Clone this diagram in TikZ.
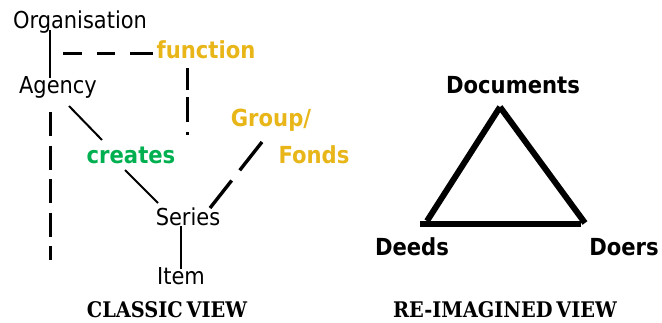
\documentclass[tikz,border=0pt]{standalone}
\usepackage{fontspec}
\setmainfont{DejaVu Sans Condensed}
\newfontfamily\headfont{DejaVu Serif Condensed}
\definecolor{gold}{RGB}{232,182,24}
\definecolor{leafgreen}{RGB}{0,176,80}
\begin{document}
\begin{tikzpicture}[x=1pt,y=-1pt,
  every node/.style={inner sep=0pt,outer sep=0pt},
  plain/.style={font=\fontsize{23.3}{23.3}\selectfont},
  keyword/.style={font=\fontsize{23.5}{23.5}\selectfont\bfseries},
  heading/.style={font=\headfont\fontsize{21.5}{21.5}\selectfont\bfseries},
  thinline/.style={line width=2pt},
  dashline/.style={line width=3pt},
  triline/.style={line width=6pt}]
\useasboundingbox (0,0) rectangle (662,322);

% classic view nodes
\node[plain] (org) at (80,22) {Organisation};
\node[keyword, text=gold] (fun) at (206,50) {function};
\node[plain] (agency) at (58,87) {Agency};
\node[keyword, text=leafgreen] (creates) at (131,155) {creates};
\node[keyword, text=gold] (group) at (271,120) {Group/};
\node[keyword, text=gold] (fonds) at (314,155) {Fonds};
\node[plain] (series) at (188,217) {Series};
\node[plain] (item) at (181,276) {Item};
\node[heading] (classic) at (167,310) {CLASSIC\hspace{-3pt} VIEW};

% connector end points
\coordinate (orgfoot) at (50,30);
\coordinate (agencyhead) at (50,78);
\coordinate (dashstart) at (63,53);
\coordinate (funleft) at (153,53);
\coordinate (funfoot) at (187,68);
\coordinate (funend) at (187,136);
\coordinate (agencyfoot) at (50,112);
\coordinate (agencyend) at (50,260);
\coordinate (agencyslant) at (69,106);
\coordinate (createshead) at (102,140);
\coordinate (createsfoot) at (125,170);
\coordinate (seriesleft) at (158,203);
\coordinate (groupfoot) at (262,142);
\coordinate (seriesright) at (210,208);
\coordinate (seriesfoot) at (181,226);
\coordinate (itemhead) at (181,269);

\draw[thinline] (orgfoot) -- (agencyhead);
\draw[dashline, dash pattern=on 19pt off 15pt on 18pt off 15pt on 30pt] (dashstart) -- (funleft);
\draw[dashline, dash pattern=on 22pt off 7pt on 25pt off 10pt on 3pt off 10pt] (funfoot) -- (funend);
\draw[dashline, dash pattern=on 24pt off 9.5pt] (agencyfoot) -- (agencyend);
\draw[thinline] (agencyslant) -- (createshead);
\draw[thinline] (createsfoot) -- (seriesleft);
\draw[dashline, line width=3.4pt, dash pattern=on 36pt off 13pt on 40pt] (groupfoot) -- (seriesright);
\draw[thinline] (seriesfoot) -- (itemhead);

% re-imagined view
\node[keyword, text=black] (docs) at (513,85) {Documents};
\node[keyword, text=black] (deeds) at (412,247) {Deeds};
\node[keyword, text=black] (doers) at (624,247) {Doers};
\node[heading] (reimagined) at (505,310) {RE-IMAGINED\hspace{-3pt} VIEW};

\coordinate (apex) at (500,107);
\coordinate (leftfoot) at (427,221);
\coordinate (baseleft) at (420,224);
\coordinate (baseright) at (581,224);
\coordinate (rightfoot) at (585,223);

\draw[triline] (apex) -- (leftfoot);
\draw[triline] (baseleft) -- (baseright);
\draw[triline] (apex) -- (rightfoot);
\end{tikzpicture}
\end{document}
